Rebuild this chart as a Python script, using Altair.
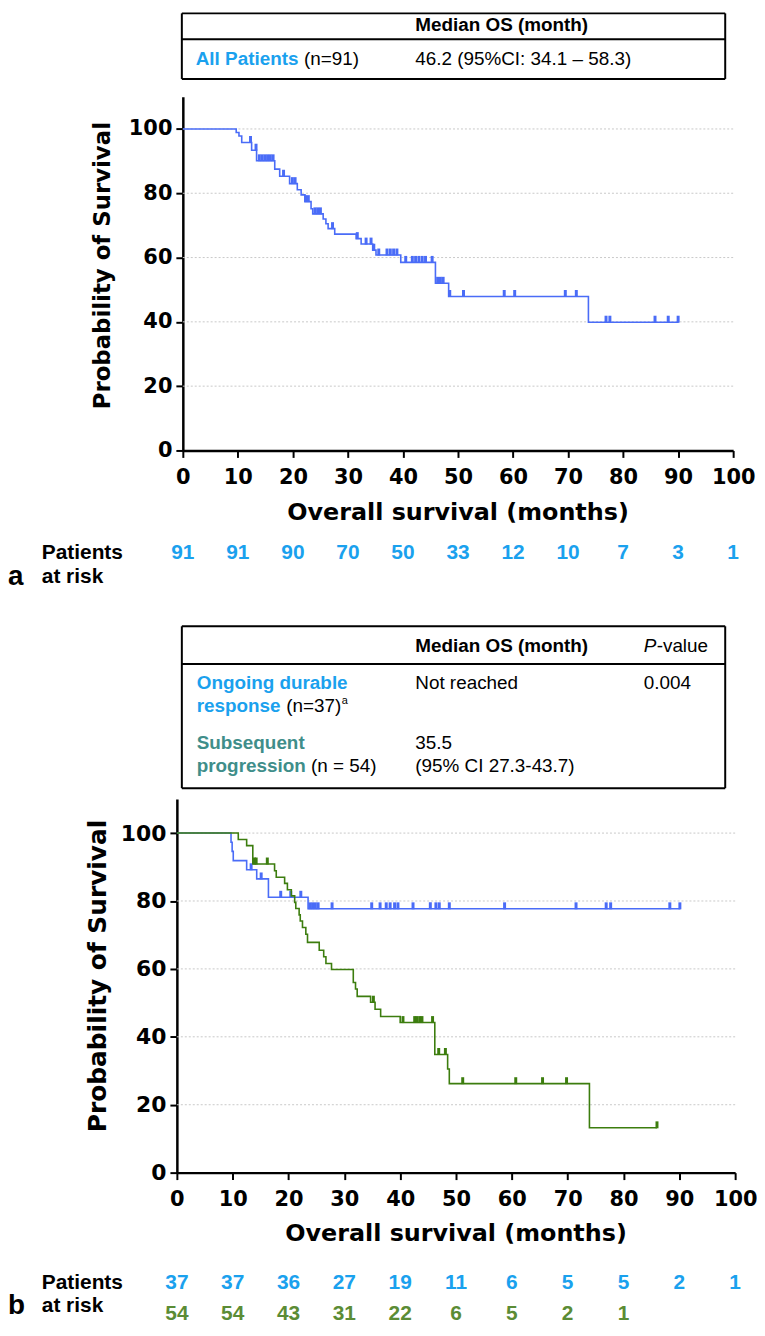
import altair as alt
import pandas as pd

# ---------------- data ----------------
months = [0, 10, 20, 30, 40, 50, 60, 70, 80, 90, 100]
risk_all = [91, 91, 90, 70, 50, 33, 12, 10, 7, 3, 1]
risk_durable = [37, 37, 36, 27, 19, 11, 6, 5, 5, 2, 1]
risk_prog = [54, 54, 43, 31, 22, 6, 5, 2, 1]
grid_levels = [20, 40, 60, 80, 100]

# panel a: all patients (step points, survival %)
a_time = [0, 9.7, 10.2, 10.7, 12.5, 13.4, 16.7, 17.6, 19.4, 20.8, 21.5, 22.2, 23.3, 23.6,
          25.5, 26.0, 26.4, 27.6, 31.5, 32.4, 34.5, 35.1, 39.6, 45.9, 48.3, 73.7, 90.1]
a_surv = [100, 98.9, 97.8, 95.8, 93.4, 90.1, 87.5, 85.3, 83.0, 81.1, 79.5, 77.4, 75.2, 73.6,
          72.0, 70.5, 69.0, 67.3, 65.9, 64.2, 62.3, 60.8, 58.5, 52.0, 47.9, 39.9, 39.9]
a_cens_time = [12.3, 13.3, 13.9, 14.4, 14.9, 15.4, 15.9, 16.4, 18.3, 19.9, 20.4, 22.3, 22.8,
               24.0, 24.5, 25.0, 27.2, 31.7, 33.3, 34.2, 34.7, 35.6, 37.1, 37.7, 38.3, 38.9,
               40.5, 41.7, 42.3, 42.9, 43.5, 44.1, 45.3, 46.3, 46.8, 47.3, 48.5, 51.0, 58.4,
               60.3, 69.5, 71.5, 76.9, 77.6, 85.8, 88.2, 90.0]
a_cens_surv = [95.8, 93.4, 90.1, 90.1, 90.1, 90.1, 90.1, 90.1, 85.3, 83.0, 83.0, 77.4, 77.4,
               73.6, 73.6, 73.6, 69.0, 65.9, 64.2, 64.2, 62.3, 60.8, 60.8, 60.8, 60.8, 60.8,
               58.5, 58.5, 58.5, 58.5, 58.5, 58.5, 58.5, 52.0, 52.0, 52.0, 47.9, 47.9, 47.9,
               47.9, 47.9, 47.9, 39.9, 39.9, 39.9, 39.9, 39.9]

# panel b: ongoing durable response
d_time = [0, 9.7, 9.9, 10.1, 12.5, 14.3, 16.4, 23.5, 90.2]
d_surv = [100, 97.3, 94.6, 91.9, 89.2, 86.5, 81.1, 77.7, 77.7]
d_cens_time = [13.3, 15.1, 18.6, 20.4, 22.2, 23.8, 24.3, 24.8, 25.3, 27.8, 34.9, 36.4, 37.5,
               38.2, 39.0, 39.6, 42.3, 45.4, 46.4, 47.0, 48.8, 58.7, 71.5, 76.9, 77.7, 88.3, 90.1]
d_cens_surv = [89.2, 86.5, 81.1, 81.1, 81.1, 77.7, 77.7, 77.7, 77.7, 77.7, 77.7, 77.7, 77.7,
               77.7, 77.7, 77.7, 77.7, 77.7, 77.7, 77.7, 77.7, 77.7, 77.7, 77.7, 77.7, 77.7, 77.7]

# panel b: subsequent progression
p_time = [0, 11.0, 12.5, 13.6, 17.5, 17.8, 19.3, 19.8, 20.5, 21.1, 21.3, 21.9, 22.1, 22.5,
          23.1, 23.4, 25.5, 26.3, 26.7, 27.7, 31.6, 32.0, 32.3, 34.7, 35.5, 36.5, 40.0, 46.2,
          48.5, 48.8, 73.9, 86.0]
p_surv = [100, 98.1, 96.3, 90.9, 88.9, 87.0, 85.2, 83.3, 81.5, 79.6, 77.8, 75.9, 74.1, 72.2,
          70.2, 67.8, 65.5, 63.6, 61.6, 59.8, 56.0, 54.1, 51.9, 50.2, 48.1, 46.0, 44.2, 34.8,
          30.5, 26.2, 13.2, 13.2]
p_cens_time = [13.9, 14.2, 16.2, 35.2, 40.5, 42.6, 43.0, 43.5, 43.9, 45.8, 46.9, 48.1, 51.2,
               60.7, 65.5, 69.8, 86.0]
p_cens_surv = [90.9, 90.9, 90.9, 50.2, 44.2, 44.2, 44.2, 44.2, 44.2, 44.2, 34.8, 34.8, 26.2,
               26.2, 26.2, 26.2, 13.2]

# ---------------- styles ----------------
BLUE_LINE = "#4A6CF7"
GREEN_LINE = "#3C7D0E"
BLUE_TXT = "#1AA1EE"
GREEN_TXT = "#5B8C35"
TEAL_TXT = "#3F8E8A"
WIDE = "DejaVu Sans"
ARIAL = "Liberation Sans"
TSIZE = 19


def txt(s, x, y, size=TSIZE, color="black", weight="normal", font=ARIAL,
        align="left", style="normal", angle=None):
    kw = dict(align=align, baseline="middle", fontSize=size, font=font,
              fontWeight=weight, color=color, fontStyle=style)
    if angle is not None:
        kw["angle"] = angle
    return alt.Chart(pd.DataFrame({"s": [s]})).mark_text(**kw).encode(
        x=alt.value(x), y=alt.value(y), text="s:N")


def hline(x1, x2, y):
    return alt.Chart(pd.DataFrame({"k": [0]})).mark_rule(
        color="black", strokeWidth=2).encode(
        x=alt.value(x1), x2=alt.value(x2), y=alt.value(y))


def vline(x, y1, y2):
    return alt.Chart(pd.DataFrame({"k": [0]})).mark_rule(
        color="black", strokeWidth=2).encode(
        x=alt.value(x), y=alt.value(y1), y2=alt.value(y2))


def box(x1, x2, y1, y2):
    return [hline(x1, x2, y1), hline(x1, x2, y2), vline(x1, y1, y2), vline(x2, y1, y2)]


def make_axes(xrange, yoffset, ylabsize):
    xaxis = alt.Axis(values=months, title=None, labelFont=WIDE, labelFontWeight="bold",
                     labelFontSize=21, labelColor="black", tickSize=7, tickWidth=2,
                     tickColor="black", domainColor="black", domainWidth=2.5,
                     labelPadding=9, labelFlush=False, labelOverlap=False, grid=False)
    yaxis = alt.Axis(values=[0, 20, 40, 60, 80, 100], title=None, labelFont=WIDE,
                     labelFontWeight="bold", labelFontSize=ylabsize, labelColor="black",
                     tickSize=7, tickWidth=2, tickColor="black", domainColor="black",
                     domainWidth=2.5, labelPadding=4, labelFlush=False, grid=False,
                     offset=yoffset)
    if xrange is None:
        xs = alt.Scale(domain=[0, 100], nice=False)
    else:
        xs = alt.Scale(domain=[0, 100], range=xrange, nice=False)
    X = alt.X("t:Q", scale=xs, axis=xaxis)
    Y = alt.Y("s:Q", scale=alt.Scale(domain=[0, 110], nice=False), axis=yaxis)
    return X, Y


def panel_layers(X, Y, curves):
    layers = []
    gdf = pd.DataFrame({"s": grid_levels, "t": [0] * len(grid_levels),
                        "t2": [100] * len(grid_levels)})
    layers.append(alt.Chart(gdf).mark_rule(color="#c9c9c9", strokeDash=[2, 2],
                                           strokeWidth=1).encode(x=X, x2="t2:Q", y=Y))
    for t, s, ct, cs, col in curves:
        ldf = pd.DataFrame({"t": t, "s": s})
        layers.append(alt.Chart(ldf).mark_line(interpolate="step-after", color=col,
                                               strokeWidth=1.6).encode(x=X, y=Y))
        cdf = pd.DataFrame({"t": ct, "s": cs})
        layers.append(alt.Chart(cdf).mark_tick(orient="vertical", color=col, size=7,
                                               thickness=3, yOffset=-3, opacity=1).encode(x=X, y=Y))
    return layers


def risk_row(X, counts, y, color):
    df = pd.DataFrame({"t": months[:len(counts)], "n": counts})
    return alt.Chart(df).mark_text(font=ARIAL, fontWeight="bold", fontSize=21, color=color,
                                   baseline="middle", align="center").encode(
        x=X, y=alt.value(y), text="n:Q")


# ---------------- panel a ----------------
HA = 356
Xa, Ya = make_axes([6, 560], -6, 21)
la = panel_layers(Xa, Ya, [(a_time, a_surv, a_cens_time, a_cens_surv, BLUE_LINE)])
la += [
    risk_row(Xa, risk_all, 459, BLUE_TXT),
    txt("Probability of Survival", -74, 170, size=23, weight="bold", font=WIDE, align="center", angle=270),
    alt.Chart(pd.DataFrame({"s": ["Overall survival (months)"]})).mark_text(
        font=WIDE, fontWeight="bold", fontSize=24, baseline="middle", align="center").encode(
        x=alt.datum(50), y=alt.value(HA + 63), text="s:N"),
    txt("Patients", -136, 459, size=21, weight="bold"),
    txt("at risk", -136, 483, size=21, weight="bold"),
    txt("a", -170, 483, size=28, weight="bold"),
]
la += box(5, 552, -84, -18)
la += [
    hline(5, 552, -58),
    txt("Median OS (month)", 240, -72, weight="bold"),
    txt("All Patients", 19, -38, weight="bold", color=BLUE_TXT),
    txt("(n=91)", 128, -38),
    txt("46.2 (95%CI: 34.1 \u2013 58.3)", 240, -38),
]
chart_a = alt.layer(*la).properties(width=562, height=HA)

# ---------------- panel b ----------------
HB = 376
Xb, Yb = make_axes(None, 0, 22)
lb = panel_layers(Xb, Yb, [(d_time, d_surv, d_cens_time, d_cens_surv, BLUE_LINE),
                           (p_time, p_surv, p_cens_time, p_cens_surv, GREEN_LINE)])
lb += [
    risk_row(Xb, risk_durable, 487, BLUE_TXT),
    risk_row(Xb, risk_prog, 518, GREEN_TXT),
    txt("Probability of Survival", -79, 178, size=25, weight="bold", font=WIDE, align="center", angle=270),
    alt.Chart(pd.DataFrame({"s": ["Overall survival (months)"]})).mark_text(
        font=WIDE, fontWeight="bold", fontSize=24, baseline="middle", align="center").encode(
        x=alt.datum(50), y=alt.value(HB + 62), text="s:N"),
    txt("Patients", -136, 487, size=21, weight="bold"),
    txt("at risk", -136, 510, size=21, weight="bold"),
    txt("b", -170, 510, size=28, weight="bold"),
]
lb += box(5, 552, -174, -11)
lb += [
    hline(5, 552, -136),
    txt("Median OS (month)", 240, -154, weight="bold"),
    txt("P", 470, -154, style="italic"),
    txt("-value", 483, -154),
    txt("Ongoing durable", 20, -117, weight="bold", color=BLUE_TXT),
    txt("response", 20, -94, weight="bold", color=BLUE_TXT),
    txt("(n=37)", 110, -94),
    txt("a", 166, -99, size=11),
    txt("Not reached", 240, -117),
    txt("0.004", 470, -117),
    txt("Subsequent", 20, -56, weight="bold", color=TEAL_TXT),
    txt("progression", 20, -33, weight="bold", color=TEAL_TXT),
    txt("(n = 54)", 135, -33),
    txt("35.5", 240, -56),
    txt("(95% CI 27.3-43.7)", 240, -33),
]
chart_b = alt.layer(*lb).properties(width=562, height=HB)

chart = alt.vconcat(chart_a, chart_b, spacing=351, bounds="flush").properties(
    padding=0).configure_view(stroke=None)

chart.save("out.html", embed_options={"renderer": "svg", "actions": False})
